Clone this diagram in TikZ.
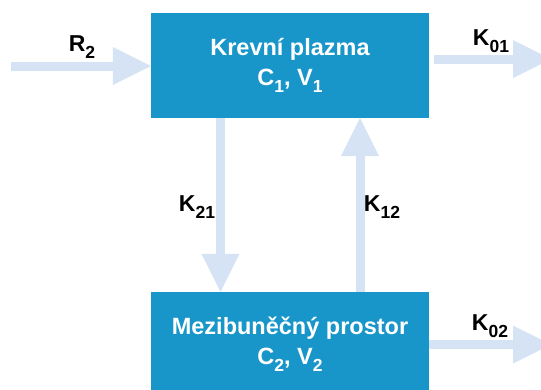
\documentclass[tikz,border=0pt]{standalone}
\usepackage{fontspec}
\setmainfont{Liberation Sans}
\usetikzlibrary{arrows.meta}
\definecolor{boxblue}{RGB}{24,150,201}
\definecolor{arrblue}{RGB}{214,227,244}
\newcommand\lsub[1]{\raisebox{-0.28em}{\fontsize{17.5}{17.5}\selectfont #1}}
\tikzset{
  compbox/.style={fill=boxblue, draw=none, inner sep=0pt, minimum width=278pt,
    minimum height=105pt, text=white, align=center,
    font=\fontsize{23.5}{30}\selectfont\bfseries},
  flow/.style={draw=arrblue, line width=9pt,
    -{Triangle[length=38pt,width=38pt,line width=0pt]}},
  lbl/.style={inner sep=0pt, text=black, font=\fontsize{23}{23}\selectfont\bfseries}
}
\begin{document}
\begin{tikzpicture}[x=1pt,y=-1pt]
\clip (0,0) rectangle (541,389);
\fill[white] (0,0) rectangle (541,389);
\node[compbox] (top) at (290,65.5) {Krevní plazma\\C\lsub{1}, V\lsub{1}};
\node[compbox] (bot) at (290,344.5) {Mezibuněčný prostor\\C\lsub{2}, V\lsub{2}};
\coordinate (r2s) at (11,66);
\coordinate (k01s) at (434,59);
\coordinate (k01e) at (551,59);
\coordinate (k02e) at (551,344.5);
\coordinate (k21x) at (220.5,0);
\coordinate (k12x) at (360,0);
\draw[flow] (r2s) -- (r2s -| top.west);
\draw[flow] (k01s) -- (k01e);
\draw[flow] (bot.east |- k02e) -- (k02e);
\draw[flow] (top.south -| k21x) -- (bot.north -| k21x);
\draw[flow] (bot.north -| k12x) -- (top.south -| k12x);
\node[lbl] (lr2) at (82,47) {R\lsub{2}};
\node[lbl] (lk01) at (491,41) {K\lsub{01}};
\node[lbl] (lk21) at (197,207) {K\lsub{21}};
\node[lbl] (lk12) at (382,207) {K\lsub{12}};
\node[lbl] (lk02) at (490,326) {K\lsub{02}};
\end{tikzpicture}
\end{document}
